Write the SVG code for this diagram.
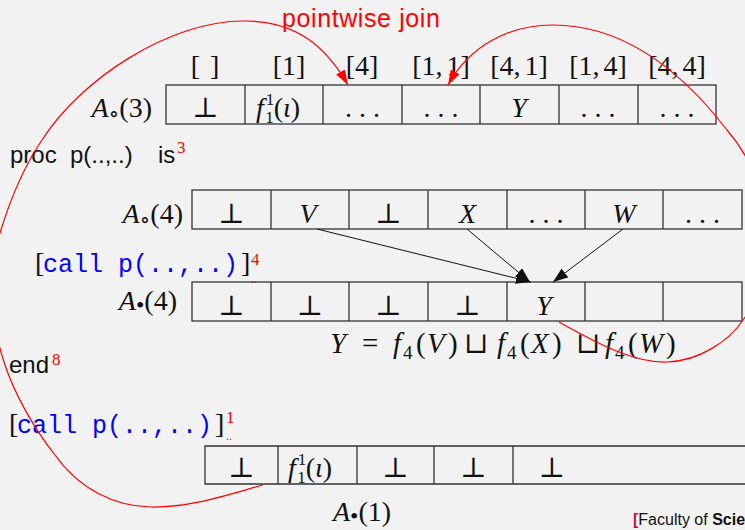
<svg xmlns="http://www.w3.org/2000/svg" width="745" height="530" viewBox="0 0 745 530">
<style>
.cell{fill:none;stroke:#333;stroke-width:1.3}
.m{font-family:"Liberation Serif","DejaVu Serif",serif;font-size:28px;fill:#111}
.h{word-spacing:-3px}
.c{text-anchor:middle}
.i{font-style:italic}
.s{font-family:"Liberation Sans","DejaVu Sans",sans-serif;font-size:24px;fill:#111}
.sup{font-family:"Liberation Serif","DejaVu Serif",serif;font-size:17px;fill:#f00}
.mono{font-family:"Liberation Mono","DejaVu Sans Mono",monospace;font-size:25px;fill:#00f}
.curve{fill:none;stroke:#f00;stroke-width:1.2}
.arr{stroke:#111;stroke-width:1;fill:none}
</style>
<defs>
<marker id="ab" markerUnits="userSpaceOnUse" markerWidth="16" markerHeight="12" refX="15" refY="5.5" orient="auto"><path d="M0,0 L15,5.5 L0,11 z" fill="#111"/></marker>
<marker id="ar" markerUnits="userSpaceOnUse" markerWidth="16" markerHeight="12" refX="15" refY="5" orient="auto"><path d="M0,0 L15,5 L0,10 z" fill="#f00"/></marker>
</defs>
<rect width="745" height="530" fill="#f2f2f2"/>

<text class="s" x="282" y="27" style="fill:#f00;font-size:25px;letter-spacing:0.6px">pointwise join</text>

<g id="row-a3">
<g class="m c">
<text x="205" y="75" style="word-spacing:3px">[ ]</text><text x="289" y="75">[1]</text><text x="362" y="75">[4]</text>
<text x="441" y="75" class="h">[1, 1]</text><text x="519" y="75" class="h">[4, 1]</text><text x="598" y="75" class="h">[1, 4]</text><text x="677" y="75" class="h">[4, 4]</text>
</g>
<text class="m" x="152" y="117" text-anchor="end"><tspan class="i">A</tspan><tspan font-size="22" dy="4">∘</tspan><tspan dy="-4">(3)</tspan></text>
<rect class="cell" x="166" y="85" width="550" height="39"/>
<path class="cell" d="M245,85V124M323,85V124M402,85V124M480,85V124M559,85V124M638,85V124"/>
<g class="m c">
<text x="205.5" y="117">⊥</text><text x="362.5" y="117">. . .</text><text x="441" y="117">. . .</text>
<text x="519" y="117" class="i">Y</text><text x="598" y="117">. . .</text><text x="677" y="117">. . .</text>
</g>
<text class="m" x="256" y="117"><tspan class="i">f</tspan><tspan font-size="17" dx="2" dy="-12">1</tspan><tspan font-size="17" dx="-8.5" dy="18">1</tspan><tspan dy="-6">(</tspan><tspan class="i">ι</tspan>)</text>
</g>

<g id="proc">
<text class="s" y="163"><tspan x="10">proc</tspan><tspan x="70">p(..,..)</tspan><tspan x="158">is</tspan></text>
<text class="sup" x="177" y="153">3</text>
</g>

<g id="row-a4-in">
<text class="m" x="183" y="223" text-anchor="end"><tspan class="i">A</tspan><tspan font-size="22" dy="4">∘</tspan><tspan dy="-4">(4)</tspan></text>
<rect class="cell" x="192" y="190" width="550" height="39"/>
<path class="cell" d="M271,190V229M349,190V229M428,190V229M507,190V229M585,190V229M663,190V229"/>
<g class="m c">
<text x="231.5" y="223">⊥</text><text x="308" y="223" class="i">V</text><text x="388.5" y="223">⊥</text>
<text x="467.5" y="223" class="i">X</text><text x="546" y="223">. . .</text><text x="624" y="223" class="i">W</text><text x="702.5" y="223">. . .</text>
</g>
</g>

<g id="call4">
<text class="m" x="35" y="272">[</text>
<text class="mono" x="43" y="272">call p(..,..)</text>
<text class="m" x="241" y="272">]</text>
<text class="sup" x="251" y="265">4</text>
<text class="sup" x="251" y="283" style="font-size:12px">..</text>
</g>

<g id="row-a4-out">
<text class="m" x="177" y="310" text-anchor="end"><tspan class="i">A</tspan><tspan font-size="24" dy="3">•</tspan><tspan dy="-3">(4)</tspan></text>
<rect class="cell" x="192" y="282" width="550" height="39"/>
<path class="cell" d="M271,282V321M349,282V321M428,282V321M507,282V321M585,282V321M663,282V321"/>
<g class="m c">
<text x="231.5" y="315">⊥</text><text x="310" y="315">⊥</text><text x="388.5" y="315">⊥</text>
<text x="467.5" y="315">⊥</text><text x="544" y="315" class="i">Y</text>
</g>
</g>

<g id="equation">
<text class="m" y="353" style="font-size:29px"><tspan x="330" class="i">Y</tspan><tspan x="362">=</tspan><tspan x="393" class="i">f</tspan><tspan x="403" font-size="19" dy="6">4</tspan><tspan x="416" dy="-6">(</tspan><tspan x="427" class="i">V</tspan><tspan x="448">)</tspan><tspan x="464">⊔</tspan><tspan x="497" class="i">f</tspan><tspan x="507" font-size="19" dy="6">4</tspan><tspan x="520" dy="-6">(</tspan><tspan x="531" class="i">X</tspan><tspan x="552">)</tspan><tspan x="576">⊔</tspan><tspan x="605" class="i">f</tspan><tspan x="615" font-size="19" dy="6">4</tspan><tspan x="628" dy="-6">(</tspan><tspan x="639" class="i">W</tspan><tspan x="666">)</tspan></text>
</g>

<g id="end">
<text class="s" x="9" y="373">end</text>
<text class="sup" x="52" y="365">8</text>
</g>

<g id="call1">
<text class="m" x="9" y="433">[</text>
<text class="mono" x="17" y="433">call p(..,..)</text>
<text class="m" x="215" y="433">]</text>
<text class="sup" x="226" y="423">1</text>
<text class="sup" x="226" y="440" style="font-size:12px">..</text>
</g>

<g id="row-a1">
<path class="cell" d="M745,446H205V484H745M278,446V484M357,446V484M434,446V484M513,446V484"/>
<g class="m c">
<text x="241.5" y="477">⊥</text><text x="395.5" y="477">⊥</text><text x="473.5" y="477">⊥</text><text x="552" y="477">⊥</text>
</g>
<text class="m" x="288" y="477"><tspan class="i">f</tspan><tspan font-size="17" dx="2" dy="-12">1</tspan><tspan font-size="17" dx="-8.5" dy="18">1</tspan><tspan dy="-6">(</tspan><tspan class="i">ι</tspan>)</text>
<text class="m" x="362" y="521" text-anchor="middle"><tspan class="i">A</tspan><tspan font-size="24" dy="3">•</tspan><tspan dy="-3">(1)</tspan></text>
</g>

<g id="connectors">
<path class="arr" d="M317,229L531,282" marker-end="url(#ab)"/>
<path class="arr" d="M467,229L530,282" marker-end="url(#ab)"/>
<path class="arr" d="M623,229L553,282" marker-end="url(#ab)"/>
<path class="curve" d="M263,485 C230,494 190,508 150,507 C115,506 80,490 55,455 C35,430 15,395 5,365 C-10,320 -15,275 0,233 C10,200 25,165 42,140 C80,80 170,20 245,21 C295,21 325,45 348,85" marker-end="url(#ar)"/>
<path class="curve" d="M559,322 C600,345 635,363 667,362 C700,361 730,340 743,320 C780,270 775,185 727,130 C700,95 640,25 553,25 C510,25 470,45 448,85" marker-end="url(#ar)"/>
</g>

<g id="footer">
<text x="633" y="525" style="font-family:'Liberation Sans','DejaVu Sans',sans-serif;font-size:16px;fill:#111"><tspan style="fill:#c8102e;font-weight:bold">[</tspan>Faculty of <tspan font-weight="bold">Science</tspan></text>
</g>
</svg>
